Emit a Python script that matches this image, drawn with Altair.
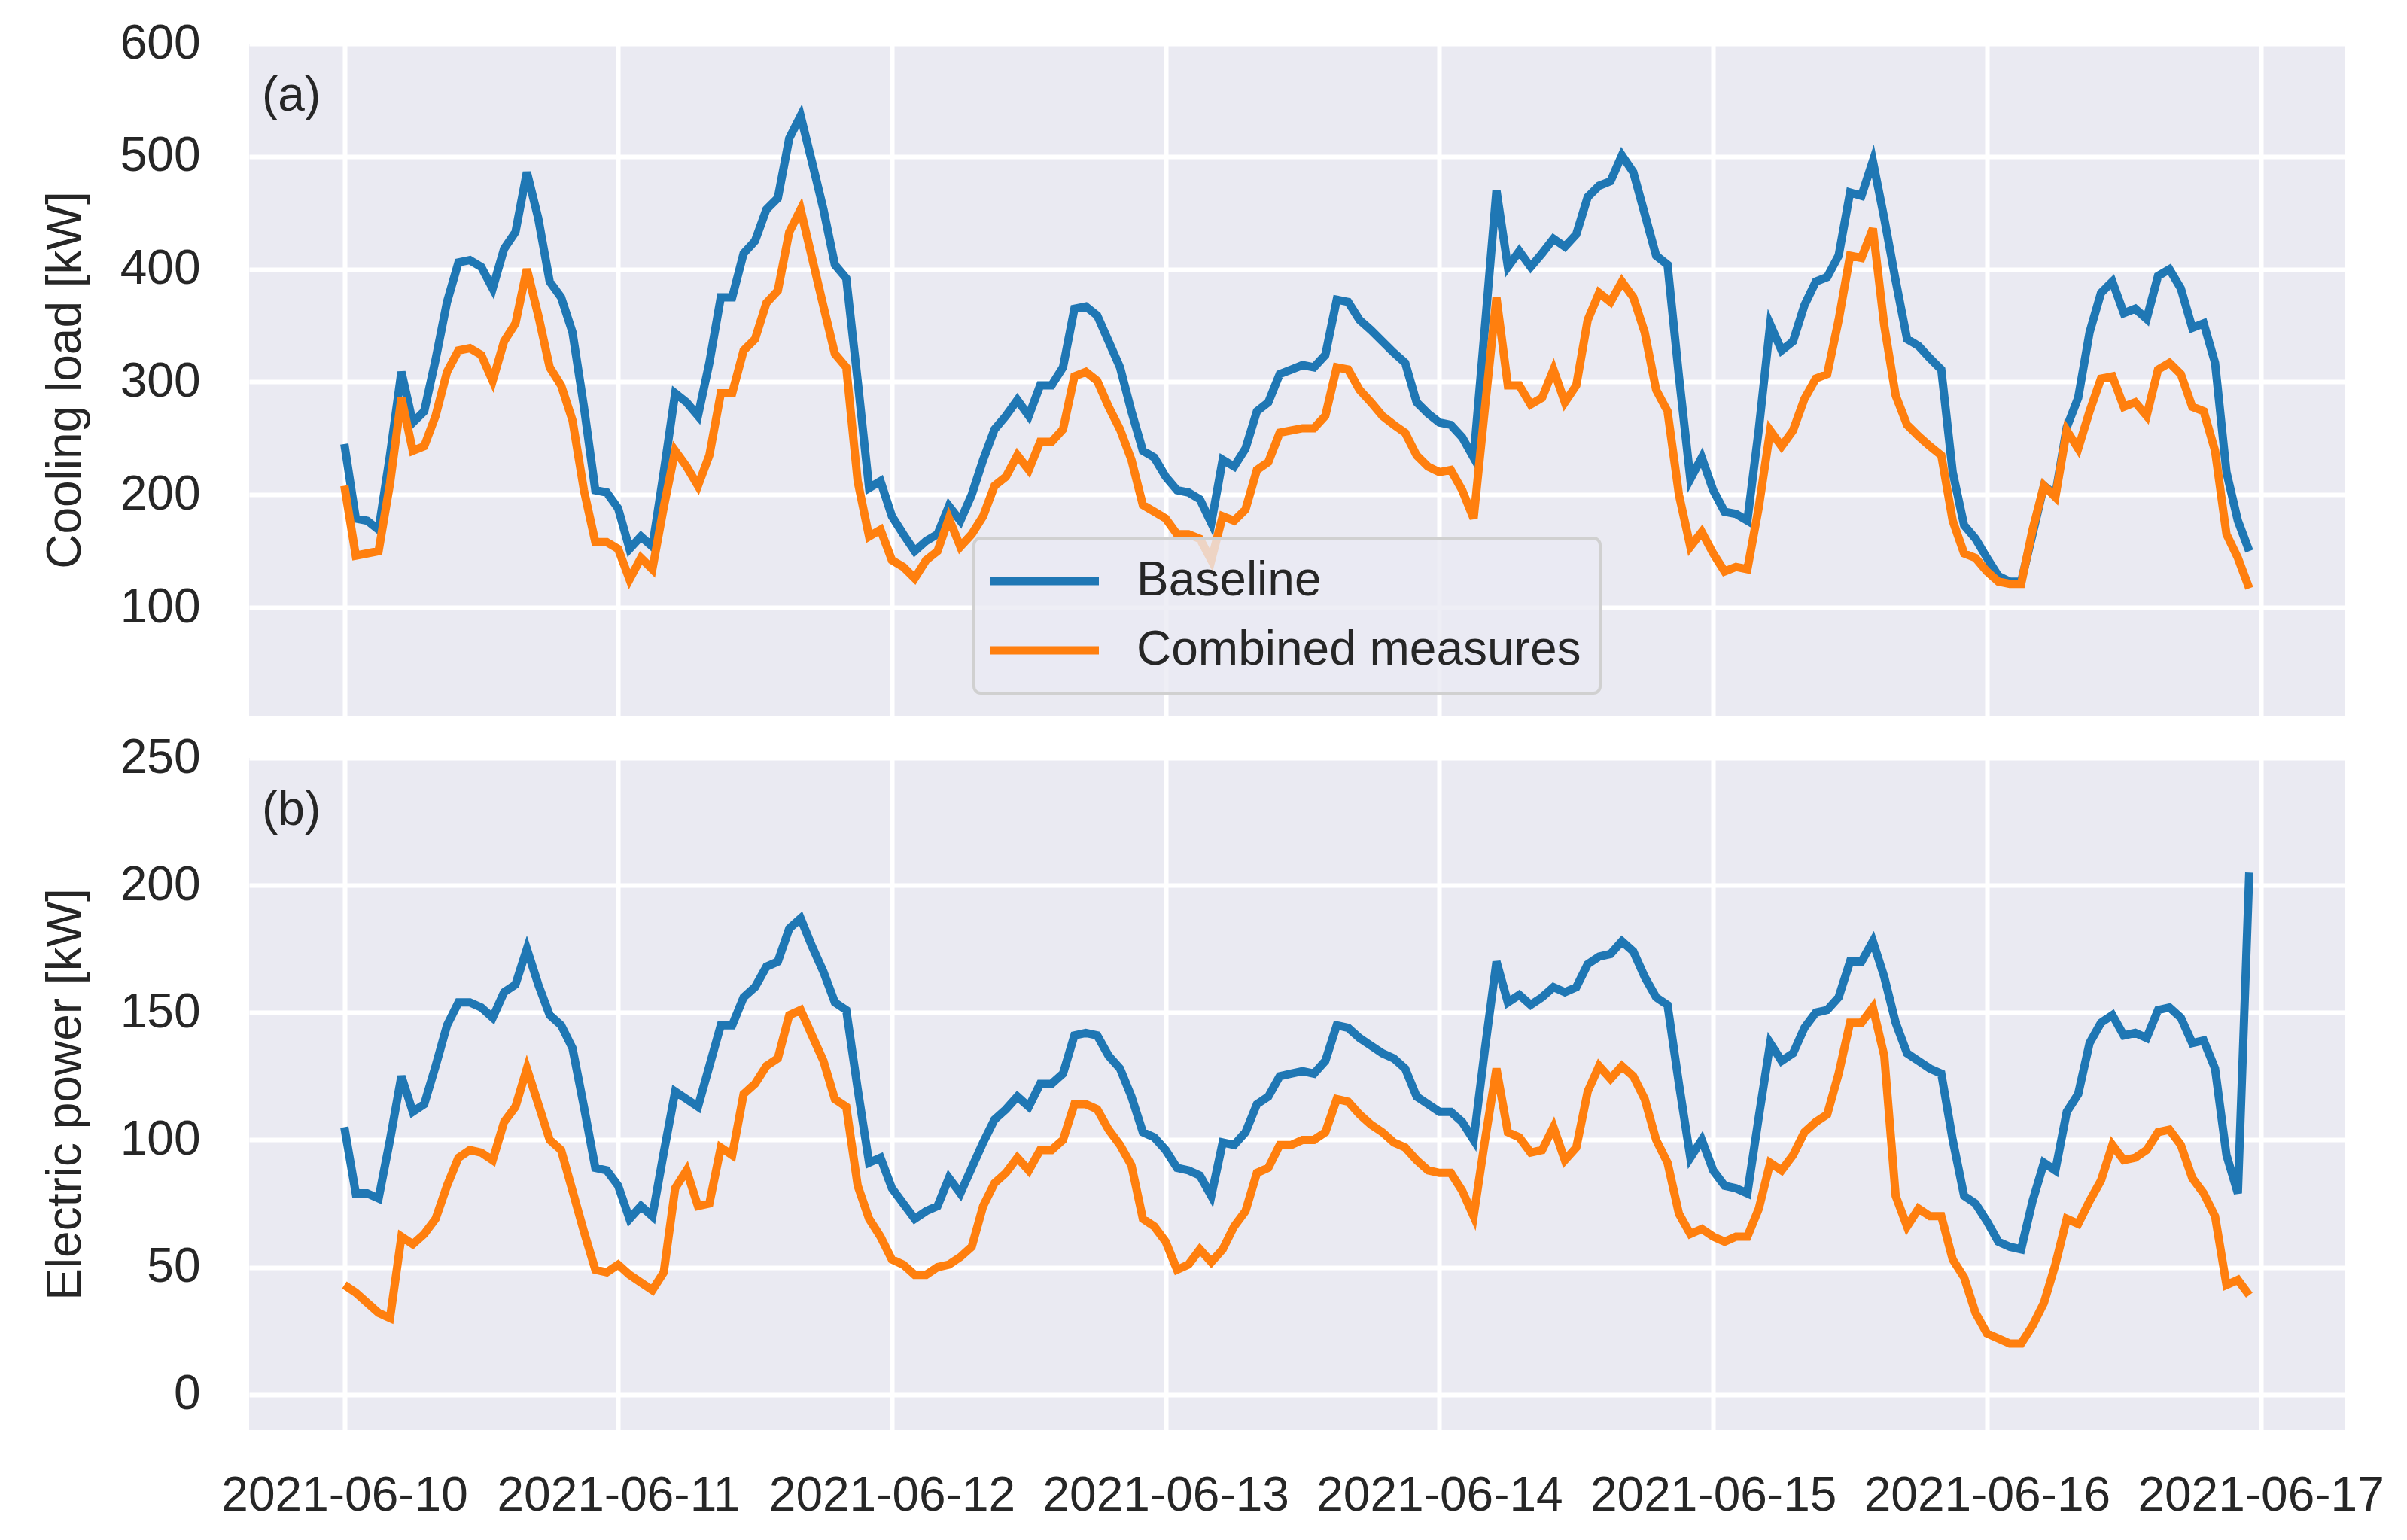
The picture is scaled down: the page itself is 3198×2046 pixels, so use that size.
import altair as alt
import pandas as pd

# ---------------- data (hourly, 2021-06-10 00:00 .. 2021-06-16 23:00) ----------------
tick_dates = ["2021-06-10", "2021-06-11", "2021-06-12", "2021-06-13",
              "2021-06-14", "2021-06-15", "2021-06-16", "2021-06-17"]
series_names = ["Baseline", "Combined measures"]
series_colors = ["#1f77b4", "#ff7f0e"]

cooling_baseline = [
    245, 179, 177, 169, 235, 309, 264, 274, 320, 371, 406, 408, 402, 383, 418, 433, 486, 445, 389, 375, 344, 278, 204, 202,
    188, 152, 163, 154, 220, 290, 282, 270, 317, 375, 375, 414, 425, 453, 463, 516, 536, 495, 453, 404, 392, 301, 206, 212,
    181, 165, 150, 159, 165, 190, 177, 200, 231, 258, 270, 284, 270, 297, 297, 313, 365, 367, 359, 336, 313, 274, 239, 233,
    216, 204, 202, 196, 175, 231, 225, 241, 274, 282, 307, 311, 315, 313, 324, 373, 371, 355, 346, 336, 326, 317, 282, 272,
    264, 262, 251, 233, 350, 470, 402, 416, 402, 414, 427, 420, 431, 464, 474, 478, 501, 486, 449, 412, 404, 305, 214, 233,
    204, 185, 183, 177, 258, 351, 328, 336, 368, 389, 393, 412, 468, 465, 496, 445, 390, 338, 332, 321, 311, 220, 173, 161,
    144, 128, 123, 123, 165, 208, 200, 260, 286, 344, 379, 389, 361, 365, 356, 394, 400, 383, 348, 352, 317, 220, 177, 150,
]
cooling_combined = [
    208, 146, 148, 150, 210, 286, 239, 243, 270, 309, 328, 330, 324, 301, 336, 352, 400, 359, 313, 297, 266, 204, 158, 158,
    152, 125, 144, 134, 189, 239, 225, 208, 235, 290, 290, 328, 338, 370, 381, 433, 453, 410, 367, 325, 313, 212, 163, 169,
    142, 136, 126, 142, 150, 179, 154, 165, 181, 208, 216, 235, 222, 247, 247, 258, 305, 309, 301, 278, 258, 231, 191, 185,
    179, 165, 165, 161, 142, 181, 177, 187, 222, 229, 255, 257, 259, 259, 270, 313, 311, 293, 282, 270, 262, 255, 235, 225,
    220, 222, 204, 179, 278, 375, 297, 297, 280, 286, 311, 282, 297, 355, 379, 371, 389, 375, 344, 293, 274, 200, 154, 167,
    148, 132, 136, 134, 189, 257, 243, 257, 285, 303, 307, 355, 412, 410, 436, 350, 288, 262, 252, 243, 235, 177, 148, 144,
    132, 123, 121, 121, 169, 208, 198, 257, 241, 274, 303, 305, 278, 282, 270, 311, 317, 307, 278, 274, 239, 165, 144, 117,
]
power_baseline = [
    105, 79, 79, 77, 100, 125, 111, 114, 129, 145, 154, 154, 152, 148, 158, 161, 175, 161, 149, 145, 136, 113, 89, 88,
    82, 69, 74, 70, 95, 119, 116, 113, 129, 145, 145, 156, 160, 168, 170, 183, 187, 176, 166, 154, 151, 120, 91, 93,
    81, 75, 69, 72, 74, 85, 79, 89, 99, 108, 112, 117, 113, 122, 122, 126, 141, 142, 141, 133, 128, 117, 103, 101,
    96, 89, 88, 86, 78, 99, 98, 103, 114, 117, 125, 126, 127, 126, 131, 145, 144, 140, 137, 134, 132, 128, 117, 114,
    111, 111, 107, 100, 136, 170, 154, 157, 153, 156, 160, 158, 160, 169, 172, 173, 178, 174, 164, 156, 153, 122, 93, 100,
    88, 82, 81, 79, 109, 138, 131, 134, 144, 150, 151, 156, 170, 170, 178, 164, 146, 134, 131, 128, 126, 100, 78, 75,
    68, 60, 58, 57, 76, 91, 88, 111, 118, 138, 146, 149, 141, 142, 140, 151, 152, 148, 138, 139, 128, 94, 79, 205,
]
power_combined = [
    43, 40, 36, 32, 30, 62, 59, 63, 69, 82, 93, 96, 95, 92, 107, 113, 128, 114, 100, 96, 80, 64, 49, 48,
    51, 47, 44, 41, 48, 81, 88, 74, 75, 97, 94, 118, 122, 129, 132, 149, 151, 141, 131, 116, 113, 82, 69, 62,
    53, 51, 47, 47, 50, 51, 54, 58, 74, 83, 87, 93, 88, 96, 96, 100, 114, 114, 112, 104, 98, 90, 69, 66,
    60, 49, 51, 57, 52, 57, 66, 72, 87, 89, 98, 98, 100, 100, 103, 116, 115, 110, 106, 103, 99, 97, 92, 88,
    87, 87, 80, 70, 100, 128, 103, 101, 95, 96, 105, 92, 97, 119, 129, 124, 129, 125, 116, 100, 91, 71, 63, 65,
    62, 60, 62, 62, 73, 91, 88, 94, 103, 107, 110, 126, 146, 146, 152, 133, 78, 66, 73, 70, 70, 53, 46, 32,
    24, 22, 20, 20, 27, 36, 51, 69, 67, 76, 84, 98, 92, 93, 96, 103, 104, 98, 85, 79, 70, 43, 45, 39,
]

times = list(pd.date_range("2021-06-10 00:00", periods=len(cooling_baseline), freq="h")
             .strftime("%Y-%m-%dT%H:%M:%S"))


def long_table(base, comb):
    return pd.DataFrame({
        "time": times + times,
        "value": base + comb,
        "series": [series_names[0]] * len(base) + [series_names[1]] * len(comb),
    })


df_a = long_table(cooling_baseline, cooling_combined)
df_b = long_table(power_baseline, power_combined)

# ---------------- styling ----------------
FONT = "Liberation Sans"
TXT = "#262626"
FS = 64
W, H = 2784, 893
LW = 11

x_domain = [alt.DateTime(year=2021, month=6, date=9, hours=15, minutes=39),
            alt.DateTime(year=2021, month=6, date=17, hours=7, minutes=21)]
x_ticks = [alt.DateTime(year=int(d[:4]), month=int(d[5:7]), date=int(d[8:10])) for d in tick_dates]

color_scale = alt.Scale(domain=series_names, range=series_colors)


def panel(df, ytitle, ydomain, yticks, tag, show_x_labels, legend):
    x_axis = alt.Axis(values=x_ticks, format="%Y-%m-%d", title=None, labels=show_x_labels,
                      labelPadding=55, labelFlush=False, labelOverlap=False, labelLimit=2000)
    y_axis = alt.Axis(values=yticks, title=ytitle, labelPadding=65, titleX=-244, titleY=H / 2,
                      titleAngle=-90, titleAlign="center", titleBaseline="middle")
    lines = alt.Chart(df).mark_line(strokeWidth=LW, clip=True).encode(
        x=alt.X("time:T", scale=alt.Scale(domain=x_domain), axis=x_axis),
        y=alt.Y("value:Q", scale=alt.Scale(domain=ydomain, nice=False, zero=False), axis=y_axis),
        color=alt.Color("series:N", scale=color_scale, legend=legend, sort=series_names),
    )
    label = alt.Chart(pd.DataFrame({"t": [tag]})).mark_text(
        align="left", baseline="middle", font=FONT, fontSize=FS, color=TXT
    ).encode(text="t:N", x=alt.value(17), y=alt.value(70))
    return alt.layer(lines, label).properties(width=W, height=H)


# legend line drawn as a wide custom path so that the row height follows the label
SYM = 48
legend_a = alt.Legend(
    title=None, orient="none", legendX=963, legendY=657,
    symbolType="M-3,0H3", symbolSize=SYM ** 2, symbolStrokeWidth=LW,
    symbolOffset=37, labelOffset=90,
    labelFontSize=FS, labelFont=FONT, labelColor=TXT, labelLimit=2000,
    rowPadding=28, padding=25,
    fillColor="rgba(234,234,242,0.8)", strokeColor="#d0d0d0", cornerRadius=9,
)

chart_a = panel(df_a, "Cooling load [kW]", [4, 600], [100, 200, 300, 400, 500, 600], "(a)", False, legend_a)
chart_b = panel(df_b, "Electric power [kW]", [-14, 250], [0, 50, 100, 150, 200, 250], "(b)", True, None)

chart = (
    alt.vconcat(chart_a, chart_b, spacing=24)
    .resolve_scale(y="independent", color="shared")
    .resolve_legend(color="independent")
    .properties(padding={"left": 46, "top": 18, "right": 10, "bottom": 10}, background="white")
    .configure_view(fill="#EAEAF2", stroke=None)
    .configure_axis(
        grid=True, gridColor="white", gridWidth=6, gridOpacity=1,
        domain=False, ticks=False, tickSize=0,
        labelFont=FONT, labelFontSize=FS, labelColor=TXT,
        titleFont=FONT, titleFontSize=FS, titleColor=TXT, titleFontWeight="normal",
    )
    .configure_legend(strokeWidth=4)
)

chart.save("out.html", embed_options={"renderer": "svg", "actions": False})
